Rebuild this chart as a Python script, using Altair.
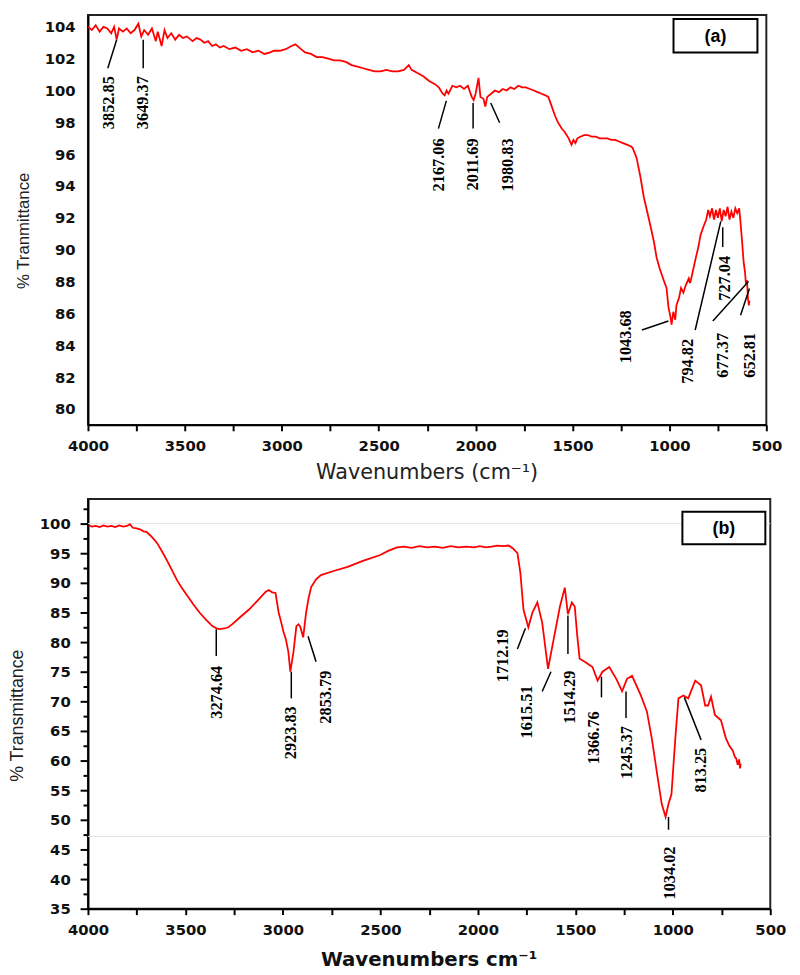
import altair as alt
import pandas as pd

# ---------------- Panel (a) spectrum ----------------
top_wn = [4000,3980,3960,3940,3920,3900,3880,3865,3852,3840,3820,3800,3780,3760,3740,3725,3710,3690,3670,3650,
          3640,3620,3605,3590,3570,3550,3530,3510,3490,3460,3440,3420,3400,3380,3360,3340,3320,3300,3270,3240,
          3210,3180,3150,3120,3090,3060,3040,3010,2980,2950,2930,2910,2880,2850,2820,2790,2760,2730,2700,2670,
          2640,2610,2580,2550,2520,2490,2460,2430,2400,2370,2345,2330,2300,2270,2240,2210,2190,2170,2160,2150,
          2140,2120,2100,2080,2060,2040,2020,2010,2000,1985,1975,1960,1950,1940,1920,1900,1880,1860,1840,1820,
          1800,1780,1760,1740,1720,1700,1680,1660,1640,1625,1610,1590,1575,1555,1540,1520,1505,1495,1485,1475,
          1460,1440,1420,1400,1380,1360,1340,1320,1300,1280,1260,1240,1220,1200,1190,1170,1150,1132,1115,1096,
          1080,1066,1050,1030,1015,1005,995,989,980,970,964,950,940,928,915,900,893,880,862,850,
          840,826,810,800,791,780,770,760,750,740,730,720,710,700,690,680,670,660,650,640,
          633,625,617,610,605,600,595,590,587]
top_T = [104.0,103.8,104.1,103.7,104.0,103.9,103.6,104.0,103.2,103.9,103.7,103.9,103.6,103.8,104.2,103.4,103.8,103.5,103.9,103.1,
         103.7,102.8,103.8,103.3,103.6,103.2,103.5,103.3,103.4,103.1,103.3,103.2,103.0,103.1,102.8,102.9,102.7,102.8,102.6,102.7,
         102.5,102.6,102.4,102.5,102.3,102.4,102.5,102.5,102.6,102.8,102.9,102.7,102.4,102.3,102.1,102.1,102.0,101.9,101.9,101.8,
         101.6,101.5,101.4,101.3,101.2,101.2,101.3,101.2,101.2,101.3,101.6,101.3,101.1,100.9,100.6,100.4,100.2,99.8,99.7,100.0,
         99.8,100.3,100.2,100.3,100.1,100.3,99.6,99.4,99.8,100.8,99.6,99.5,99.0,99.6,99.8,100.0,99.9,100.1,100.0,100.2,
         100.1,100.3,100.2,100.2,100.1,100.0,99.9,99.8,99.7,99.6,99.1,98.4,98.0,97.6,97.4,97.0,96.6,96.9,96.7,97.0,
         97.1,97.2,97.2,97.1,97.1,97.0,97.0,97.0,96.9,96.9,96.8,96.7,96.6,96.5,96.4,95.8,94.6,93.3,92.4,91.4,
         90.5,89.5,88.8,88.1,87.6,86.4,85.8,85.3,86.1,85.6,86.5,87.0,87.6,87.3,87.8,88.2,87.9,88.6,89.6,90.2,
         90.9,91.4,91.9,92.5,92.1,92.6,91.9,92.5,92.0,92.6,91.8,92.5,92.1,92.7,91.9,92.4,92.0,92.6,92.3,92.6,
         91.7,90.5,89.2,88.6,87.8,88.1,87.0,86.5,86.8]

# ---------------- Panel (b) spectrum ----------------
bot_wn = [3995,3980,3960,3940,3920,3900,3880,3860,3840,3820,3800,3785,3770,3750,3730,3716,3700,3680,3660,3645,
          3620,3595,3570,3544,3520,3494,3460,3428,3395,3362,3340,3326,3300,3280,3261,3220,3174,3130,3088,3073,
          3055,3038,3022,3010,2997,2985,2972,2962,2946,2931,2920,2911,2896,2881,2868,2855,2830,2805,2740,2668,
          2590,2501,2460,2415,2380,2340,2300,2260,2220,2180,2140,2100,2060,2020,1990,1960,1930,1900,1870,1842,
          1820,1797,1782,1766,1741,1720,1695,1670,1640,1614,1579,1554,1538,1518,1503,1490,1478,1452,1412,1386,
          1361,1326,1290,1260,1235,1209,1164,1133,1108,1083,1057,1037,1022,1007,987,971,946,921,885,855,
          834,819,804,784,753,728,710,693,680,675,667,660,655,652]
bot_T = [99.7,99.5,99.6,99.4,99.7,99.5,99.6,99.4,99.7,99.5,99.6,99.9,99.3,99.2,99.0,98.7,98.6,98.0,97.3,96.7,
         95.3,93.8,92.2,90.5,89.2,88.0,86.4,85.0,83.8,82.7,82.3,82.2,82.3,82.5,83.0,84.2,85.5,87.0,88.5,88.8,
         88.4,88.3,85.0,83.5,81.7,80.5,78.3,75.0,78.3,82.7,83.0,82.6,80.8,85.0,87.5,89.3,90.6,91.3,92.0,92.7,
         93.7,94.7,95.4,96.0,96.1,95.9,96.2,96.0,96.1,95.9,96.2,96.0,96.1,96.0,96.2,96.0,96.1,96.3,96.2,96.3,
         95.8,95.0,91.7,85.5,82.5,85.0,86.7,83.3,75.5,80.0,86.0,89.2,84.7,86.7,86.0,81.0,77.2,76.7,75.8,73.5,
         75.0,75.8,73.8,71.7,73.8,74.3,71.0,68.3,63.8,58.3,52.7,50.5,52.7,54.3,63.8,70.5,71.0,70.5,73.5,72.7,
         69.3,69.3,70.8,67.7,66.8,63.8,62.5,61.7,60.5,60.4,59.3,60.2,58.7,59.5]

# ---------------- Peak annotations (a) ----------------
a_labels = ["3852.85", "3649.37", "2167.06", "2011.69", "1980.83", "1043.68", "794.82", "727.04", "677.37", "652.81"]
a_lx = [3893, 3715, 2187, 2013, 1830, 1224, 903, 714, 725, 582]
a_ly = [100.90, 100.90, 96.99, 96.99, 96.99, 86.20, 84.40, 89.61, 84.78, 84.78]
a_x1 = [3852, 3715, 2151, 2013, 1922, 1142, 867, 725, 776, 633]
a_y1 = [103.19, 103.19, 99.35, 99.22, 99.22, 84.96, 84.96, 91.41, 85.52, 85.89]
a_x2 = [3898, 3715, 2192, 2013, 1876, 1005, 735, 725, 592, 587]
a_y2 = [101.40, 101.40, 97.61, 97.61, 97.98, 85.52, 91.78, 90.17, 88.00, 87.57]

# ---------------- Peak annotations (b) ----------------
b_labels = ["3274.64", "2923.83", "2853.79", "1712.19", "1615.51", "1514.29", "1366.76", "1245.37", "1034.02", "813.25"]
b_lx = [3336, 2957, 2779, 1873, 1746, 1528, 1402, 1235, 1012, 855]
b_ly = [76.0, 69.17, 75.17, 82.17, 72.67, 75.17, 68.33, 65.83, 45.5, 62.17]
b_x1 = [3342, 2957, 2871, 1756, 1625, 1538, 1366, 1240, 1022, 941]
b_y1 = [82.17, 75.0, 81.0, 82.33, 75.0, 84.5, 74.17, 71.67, 50.5, 70.67]
b_x2 = [3342, 2957, 2830, 1797, 1670, 1538, 1366, 1240, 1022, 855]
b_y2 = [77.67, 70.5, 76.67, 78.83, 71.67, 78.0, 70.67, 67.17, 48.33, 63.5]

# axis tick lists
x_ticks = [4000 - 250 * i for i in range(15)]
a_yticks = [80 + 2 * i for i in range(13)]
b_yticks = [35 + 2.5 * i for i in range(28)]
b_gridlines = [100, 47.2]
panel_tags = ["(a)", "(b)"]

assert len(top_wn) == len(top_T)
assert len(bot_wn) == len(bot_T)

RED = "#ff0000"
TICKFONT = "DejaVu Sans"
ANNFONT = "Liberation Serif"

df_a = pd.DataFrame({"wn": top_wn, "T": top_T})
df_b = pd.DataFrame({"wn": bot_wn, "T": bot_T})
ann_a = pd.DataFrame({"label": a_labels, "lx": a_lx, "ly": a_ly, "x1": a_x1, "y1": a_y1, "x2": a_x2, "y2": a_y2})
ann_b = pd.DataFrame({"label": b_labels, "lx": b_lx, "ly": b_ly, "x1": b_x1, "y1": b_y1, "x2": b_x2, "y2": b_y2})
grid_b = pd.DataFrame({"g": b_gridlines})


def make_panel(df, ann, xscale, yscale, xaxis, yaxis, w, h, tag, box, extra_vals=None):
    one = pd.DataFrame({"tag": [tag]})
    base = alt.Chart(df).mark_line(color=RED, strokeWidth=1.8).encode(
        x=alt.X("wn:Q", scale=xscale, axis=xaxis),
        y=alt.Y("T:Q", scale=yscale, axis=yaxis),
    )
    rules = alt.Chart(ann).mark_rule(color="black", strokeWidth=1.5).encode(
        x=alt.X("x1:Q", scale=xscale, axis=xaxis),
        x2="x2:Q",
        y=alt.Y("y1:Q", scale=yscale, axis=yaxis),
        y2="y2:Q",
    )
    texts = alt.Chart(ann).mark_text(
        angle=270, align="right", baseline="middle", font=ANNFONT, fontSize=16.5,
        fontWeight="bold", color="black",
    ).encode(
        x=alt.X("lx:Q", scale=xscale, axis=xaxis),
        y=alt.Y("ly:Q", scale=yscale, axis=yaxis),
        text="label:N",
    )
    bx = alt.Chart(one).mark_rect(fill="white", stroke="black", strokeWidth=2).encode(
        x=alt.value(box[0]), x2=alt.value(box[1]), y=alt.value(box[2]), y2=alt.value(box[3])
    )
    btxt = alt.Chart(one).mark_text(font="Liberation Sans", fontSize=18, fontWeight="bold", color="black",
                                    align="center", baseline="middle").encode(
        x=alt.value((box[0] + box[1]) / 2), y=alt.value((box[2] + box[3]) / 2 + 1), text="tag:N"
    )
    layers = []
    if extra_vals is not None:
        gl = alt.Chart(extra_vals).mark_rule(color="#e4e4e4", strokeWidth=1).encode(
            y=alt.Y("g:Q", scale=yscale, axis=yaxis)
        )
        layers.append(gl)
    layers += [base, rules, texts, bx, btxt]
    return alt.layer(*layers).properties(width=w, height=h)


# ---------- panel (a)
xs_a = alt.Scale(domain=[500, 4000], reverse=True, nice=False, zero=False)
ys_a = alt.Scale(domain=[79.0, 104.74], nice=False, zero=False)
xa_a = alt.Axis(values=x_ticks, format="d", labelExpr="datum.value % 500 === 0 ? datum.label : ''",
                labelFont=TICKFONT, labelFontSize=15, labelFontWeight="bold", labelColor="#111",
                tickSize=6, tickWidth=2, tickColor="black", labelPadding=8, grid=False,
                domainColor="black", domainWidth=2, labelFlush=False,
                title="Wavenumbers (cm⁻¹)", titleFont="DejaVu Sans", titleFontSize=21,
                titleFontWeight="normal", titleColor="#222", titleX=343, titleY=48,
                titleBaseline="middle", titleAlign="center", titleAnchor="middle")
ya_a = alt.Axis(values=a_yticks, format="d", ticks=False, tickSize=0,
                labelFont=TICKFONT, labelFontSize=15, labelFontWeight="bold", labelColor="#111",
                labelPadding=13, grid=False, domainColor="black", domainWidth=2,
                title="% Tranmittance", titleFont="Liberation Sans", titleFontSize=17,
                titleFontWeight="normal", titleColor="#222", titleAngle=270, titleX=-65, titleY=218,
                titleBaseline="middle", titleAlign="center")
panel_a = make_panel(df_a, ann_a, xs_a, ys_a, xa_a, ya_a, 687, 415, panel_tags[0], (593, 678, 4, 38))

# ---------- panel (b)
xs_b = alt.Scale(domain=[500, 4000], reverse=True, nice=False, zero=False)
ys_b = alt.Scale(domain=[35, 104.17], nice=False, zero=False)
xa_b = alt.Axis(values=x_ticks, format="d", labelExpr="datum.value % 500 === 0 ? datum.label : ''",
                labelFont=TICKFONT, labelFontSize=15, labelFontWeight="bold", labelColor="#111",
                tickSize=6, tickWidth=2, tickColor="black", labelPadding=8, grid=False,
                domainColor="black", domainWidth=2, labelFlush=False,
                title="Wavenumbers cm⁻¹", titleFont="DejaVu Sans", titleFontSize=20,
                titleFontWeight="bold", titleColor="#111", titleX=345, titleY=52,
                titleBaseline="middle", titleAlign="center", titleAnchor="middle")
ya_b = alt.Axis(values=b_yticks, format="d", labelExpr="datum.value % 5 === 0 ? datum.label : ''",
                tickSize={"condition": {"test": "datum.value % 5 === 0", "value": 8}, "value": 5},
                tickWidth=2, tickColor="black",
                labelFont=TICKFONT, labelFontSize=15, labelFontWeight="bold", labelColor="#111",
                labelPadding=10, grid=False, domainColor="black", domainWidth=2,
                title="% Transmittance", titleFont="Liberation Sans", titleFontSize=18,
                titleFontWeight="normal", titleColor="#222", titleAngle=270, titleX=-71, titleY=219,
                titleBaseline="middle", titleAlign="center")
panel_b = make_panel(df_b, ann_b, xs_b, ys_b, xa_b, ya_b, 691, 415, panel_tags[1], (602, 686, 13, 46),
                     extra_vals=grid_b)

chart = alt.vconcat(panel_a, panel_b, spacing=75, bounds="flush").properties(
    padding={"left": 0, "top": 0, "right": 5, "bottom": 0}
).configure_view(stroke="#222", strokeWidth=2)

chart.save("out.html", embed_options={"renderer": "svg", "actions": False})
